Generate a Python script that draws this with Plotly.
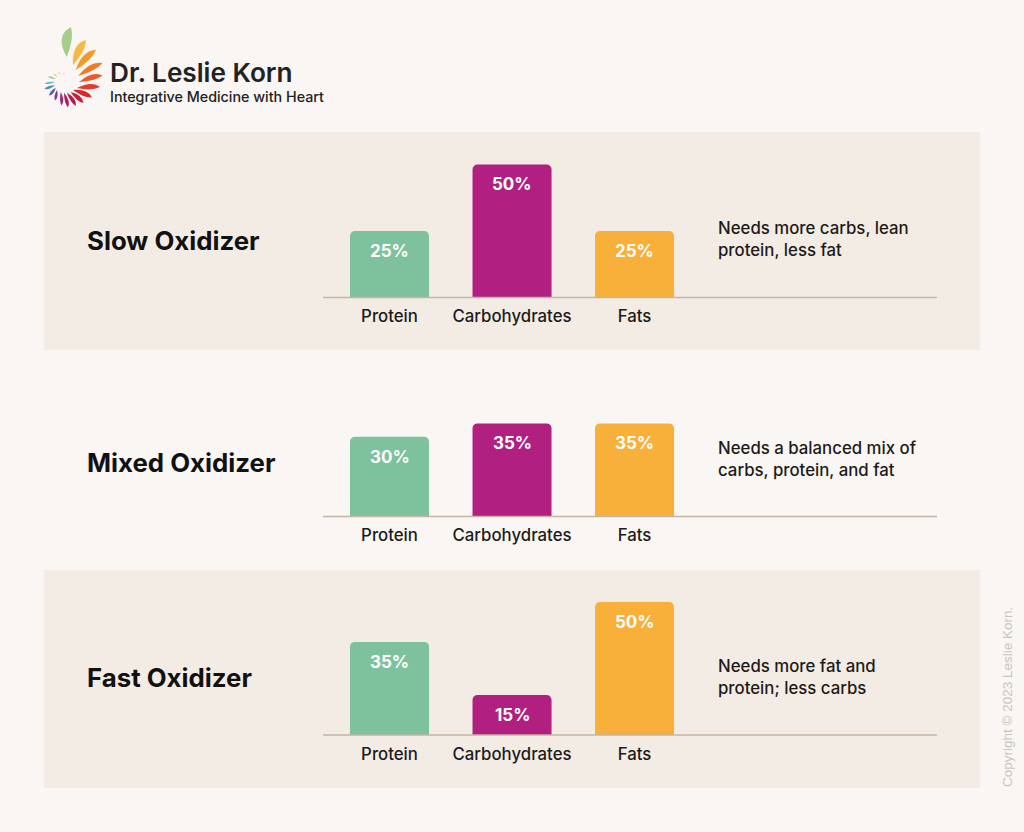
import math
import plotly.graph_objects as go

# ---------- Data ----------
categories = ["Protein", "Carbohydrates", "Fats"]
slow_values = [25, 50, 25]
mixed_values = [30, 35, 35]
fast_values = [35, 15, 50]
panel_names = ["Slow Oxidizer", "Mixed Oxidizer", "Fast Oxidizer"]
panel_notes = [
    "Needs more carbs, lean<br>protein, less fat",
    "Needs a balanced mix of<br>carbs, protein, and fat",
    "Needs more fat and<br>protein; less carbs",
]
bar_colors = ["#7dc29c", "#b11f80", "#f8b03a"]

# ---------- Layout constants (pixels of the 1024x832 page) ----------
W, H = 1024, 832
BASELINES = [297.5, 516.5, 735]
PX_PER_PCT = 2.66
Y_MAX = 60
NAME_Y = [240.5, 462.5, 677.5]
NOTE_Y = [239.5, 459, 677]
BG = "#faf6f3"
BAND = "#f3ece4"
INK = "#1d1b1a"
FONT = "Inter"


def px(x):
    return x / W


def py(y):
    return 1 - y / H


fig = go.Figure()

all_values = [slow_values, mixed_values, fast_values]
annotations = []
shapes = []

# background bands behind the first and last rows
for top, bottom in [(132, 350), (570, 788)]:
    shapes.append(dict(type="rect", xref="paper", yref="paper", layer="below",
                       x0=px(44), x1=px(980), y0=py(bottom), y1=py(top),
                       fillcolor=BAND, line_width=0))

layout_axes = {}
for i, values in enumerate(all_values):
    suffix = "" if i == 0 else str(i + 1)
    fig.add_trace(go.Bar(
        x=categories, y=values, xaxis="x" + suffix, yaxis="y" + suffix,
        width=0.645, marker=dict(color=bar_colors, cornerradius=5, line_width=0),
        showlegend=False,
    ))
    base = BASELINES[i]
    layout_axes["xaxis" + suffix] = dict(
        domain=[px(323), px(937)], range=[-0.543, 4.469], type="category",
        anchor="y" + suffix, showgrid=False, zeroline=False, ticks="",
        showline=False, tickfont=dict(family=FONT, size=16.8, color=INK, weight=500),
        ticklabelstandoff=7,
    )
    layout_axes["yaxis" + suffix] = dict(
        domain=[py(base), py(base - Y_MAX * PX_PER_PCT)], range=[0, Y_MAX],
        anchor="x" + suffix, showgrid=False, zeroline=False, showticklabels=False,
        ticks="", showline=False,
    )
    # baseline
    shapes.append(dict(type="line", xref="paper", yref="paper", layer="above",
                       x0=px(323), x1=px(937), y0=py(base), y1=py(base),
                       line=dict(color="#c4b5a4", width=1.5)))
    for cat, val in zip(categories, values):
        annotations.append(dict(
            x=cat, y=val, xref="x" + suffix, yref="y" + suffix, yshift=-20,
            text=f"{val}%", showarrow=False, yanchor="middle",
            font=dict(family=FONT, size=17, color="white", weight=700),
        ))
    annotations.append(dict(
        x=px(84.5), y=py(NAME_Y[i]), xref="paper", yref="paper", xanchor="left",
        yanchor="middle", text=panel_names[i], showarrow=False,
        font=dict(family=FONT, size=25.8, color="#111111", weight=700),
    ))
    annotations.append(dict(
        x=px(715.5), y=py(NOTE_Y[i]), xref="paper", yref="paper", xanchor="left",
        yanchor="middle", align="left", text=panel_notes[i], showarrow=False,
        font=dict(family=FONT, size=16.8, color=INK, weight=500),
    ))

# logo wordmark
annotations.append(dict(x=px(107.5), y=py(73), xref="paper", yref="paper", xanchor="left",
                        yanchor="middle", text="Dr. Leslie Korn", showarrow=False,
                        font=dict(family=FONT, size=26.2, color="#222222", weight=600)))
annotations.append(dict(x=px(107.5), y=py(96), xref="paper", yref="paper", xanchor="left",
                        yanchor="middle", text="Integrative Medicine with Heart", showarrow=False,
                        font=dict(family=FONT, size=14.3, color="#222222", weight=500)))
# copyright
annotations.append(dict(x=px(1007), y=py(697), xref="paper", yref="paper", textangle=-90,
                        xanchor="center", yanchor="middle", showarrow=False,
                        text="Copyright © 2023 Leslie Korn.",
                        font=dict(family="Liberation Sans", size=13.5, color="#c9c4bd")))


# logo petals: spiral fan, base and tip in page pixels
def petal(x0, y0, x1, y1, width, bend, color):
    dx, dy = x1 - x0, y1 - y0
    length = math.hypot(dx, dy)
    nx, ny = -dy / length, dx / length
    cx = x0 + dx * 0.65
    cy = y0 + dy * 0.65
    a = (cx + nx * (bend + width), cy + ny * (bend + width))
    b = (cx + nx * (bend - width), cy + ny * (bend - width))
    path = (f"M{px(x0):.5f},{py(y0):.5f} Q{px(a[0]):.5f},{py(a[1]):.5f} {px(x1):.5f},{py(y1):.5f} "
            f"Q{px(b[0]):.5f},{py(b[1]):.5f} {px(x0):.5f},{py(y0):.5f} Z")
    return dict(type="path", xref="paper", yref="paper", path=path, fillcolor=color, line_width=0)


logo_petals = [
    (66.7, 57, 71, 27, 10, -5, "#a6cd8c"),
    (73, 65, 86, 40, 8, -3, "#f7b944"),
    (75.7, 70, 96, 50, 7, -2.5, "#f39a2c"),
    (78, 76, 102.5, 63, 6, -2, "#ee7a2a"),
    (79, 82, 102.5, 75.5, 5.5, -2, "#ea5a2c"),
    (77, 88, 100, 87, 5.5, -1.5, "#e53a30"),
    (73, 90, 92, 97.5, 5, -1.5, "#d8262f"),
    (70.7, 92, 83.5, 103, 4.5, -1, "#c81e3c"),
    (67, 92.7, 76, 106, 4, -1, "#b31d4e"),
    (64, 92.7, 68, 107.5, 3.5, -1, "#a51f66"),
    (60.7, 92, 61.5, 105.5, 3.2, -1, "#9a2a7a"),
    (57, 90, 55, 100.5, 3, -0.5, "#7f3a93"),
    (55.7, 87.7, 49, 95.5, 3, -0.5, "#5f5aa8"),
    (55, 85.3, 44.5, 89, 2.6, 0, "#4a8cc4"),
    (55, 82, 44.5, 83.5, 2.2, 0, "#5cb5c8"),
    (56, 79, 48, 76.5, 1.8, 0, "#8ec8a8"),
    (58, 77, 53, 73.5, 1.4, 0, "#c4d48a"),
    (60.7, 75, 58, 71.5, 1.2, 0, "#f0c860"),
    (64, 75, 64, 72.5, 1, 0, "#f3a24a"),
]
for p in logo_petals:
    shapes.append(petal(*p))

fig.update_layout(
    width=W, height=H,
    margin=dict(l=0, r=0, t=0, b=0),
    paper_bgcolor=BG, plot_bgcolor="rgba(0,0,0,0)",
    font=dict(family=FONT),
    shapes=shapes, annotations=annotations,
    **layout_axes,
)

fig.write_html("out.html", config={"displayModeBar": False},
               post_script="document.body.style.margin='0';document.body.style.background='%s';" % BG)
